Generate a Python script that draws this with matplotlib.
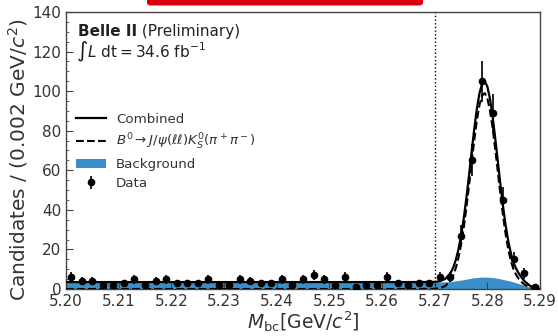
import numpy as np
import matplotlib
matplotlib.use("Agg")
import matplotlib.pyplot as plt
from matplotlib.lines import Line2D
from matplotlib.patches import Patch, FancyBboxPatch
from matplotlib.ticker import MultipleLocator, FormatStrFormatter

# binned data, 0.002 GeV/c^2 bins from 5.200 to 5.290
bin_centers = np.round(np.arange(5.201, 5.2895, 0.002), 3)
counts = [6, 4, 4, 2, 2, 3, 5, 2, 4, 5,
          3, 3, 3, 5, 2, 2, 5, 4, 3, 3,
          5, 2, 5, 7, 5, 2, 6, 1, 2, 2,
          6, 3, 2, 3, 3, 6, 6, 27, 65, 105,
          89, 45, 15, 8, 1]

# fit components
curve_x = [5.200, 5.265, 5.270, 5.271, 5.272, 5.273, 5.2735, 5.274, 5.2745, 5.275,
           5.2755, 5.276, 5.2765, 5.277, 5.2775, 5.278, 5.2785, 5.279, 5.2795, 5.280,
           5.2805, 5.281, 5.2815, 5.282, 5.2825, 5.283, 5.2835, 5.284, 5.2845, 5.285,
           5.2855, 5.286, 5.2865, 5.287, 5.288, 5.289, 5.290]
signal = [0.0, 0.0, 0.1, 0.4, 1.5, 4.2, 6.8, 10.5, 15.6, 22.3,
          30.7, 40.7, 51.9, 63.6, 75.0, 85.2, 93.0, 97.8, 99.0, 96.3,
          90.2, 81.3, 70.5, 58.9, 47.3, 36.5, 27.2, 19.5, 13.8, 9.6,
          7.0, 5.0, 3.5, 2.3, 0.8, 0.2, 0.0]
background = [3.5, 3.5, 3.5, 3.5, 3.6, 3.8, 3.9, 4.1, 4.3, 4.5,
              4.7, 5.0, 5.2, 5.5, 5.7, 5.8, 5.9, 6.0, 6.0, 6.0,
              5.9, 5.8, 5.6, 5.4, 5.1, 4.8, 4.5, 4.2, 3.9, 3.5,
              3.1, 2.7, 2.3, 1.8, 1.0, 0.3, 0.0]
combined = np.array(signal) + np.array(background)

blue = "#3a8fca"
grey = "#333333"

fig = plt.figure(figsize=(5.58, 3.36), dpi=100)
ax = fig.add_axes([0.1183, 0.1399, 0.8495, 0.8244])

ax.fill_between(curve_x, 0, background, color=blue, lw=0, zorder=1)
ax.plot(curve_x, combined, color="black", lw=1.6, zorder=3)
ax.plot(curve_x, signal, color="black", lw=1.5, ls="--", zorder=3)
ax.errorbar(bin_centers, counts, yerr=np.sqrt(counts), fmt="o", color="black",
            ms=4.5, elinewidth=1.2, capsize=0, zorder=4)
ax.axvline(5.27, color="black", ls=":", lw=1, zorder=2)

ax.set_xlim(5.20, 5.29)
ax.set_ylim(0, 140)
ax.xaxis.set_major_locator(MultipleLocator(0.01))
ax.xaxis.set_major_formatter(FormatStrFormatter("%.2f"))
ax.yaxis.set_major_locator(MultipleLocator(20))
ax.yaxis.set_minor_locator(MultipleLocator(5))
ax.tick_params(which="both", direction="in", top=False, right=False,
               labelsize=11, labelcolor=grey, color="#444444")
ax.tick_params(which="major", length=5)
ax.tick_params(which="minor", length=2.5)
for sp in ax.spines.values():
    sp.set_color("#444444")
    sp.set_linewidth(1.0)

ax.set_ylabel(r"Candidates / (0.002 GeV/$c^2$)", fontsize=14.5, color=grey)
ax.yaxis.set_label_coords(-0.077, 0.466)
ax.set_xlabel(r"$M_{\rm bc}$[GeV/$c^2$]", fontsize=13.5, color=grey, labelpad=0)

t = ax.text(0.025, 0.955, "Belle II", weight="bold", fontsize=11, color="#222222",
            va="top", transform=ax.transAxes)
ax.annotate(" (Preliminary)", xy=(1, 0), xycoords=t, va="bottom", fontsize=11,
            color="#222222")
ax.text(0.022, 0.855, r"$\int L\ \mathrm{dt} = 34.6\ \mathrm{fb}^{-1}$", fontsize=11,
        color="#222222", va="center", transform=ax.transAxes)

handles = [
    Line2D([], [], color="black", lw=1.6),
    Line2D([], [], color="black", lw=1.5, ls="--"),
    Patch(color=blue, lw=0),
    ax.errorbar([], [], yerr=[], fmt="o", color="black", ms=4.5, elinewidth=1.2),
]
labels = ["Combined", r"$B^0 \to J/\psi(\ell\ell)K^0_S(\pi^+\pi^-)$", "Background", "Data"]
leg = ax.legend(handles, labels, loc="upper left", bbox_to_anchor=(0.022, 0.636),
                frameon=False, fontsize=9.6, borderpad=0, borderaxespad=0,
                handlelength=2.2, handletextpad=0.75, labelspacing=0.45)
for txt in leg.get_texts():
    txt.set_color(grey)

# red banner cut off at the top of the picture
fig.add_artist(FancyBboxPatch((147 / 558, 1 - 5.5 / 336), 276 / 558, 8 / 336,
                              boxstyle="round,pad=0,rounding_size=0.008",
                              transform=fig.transFigure, color="#d9000d", lw=0))

fig.savefig("out.png", dpi=100)
